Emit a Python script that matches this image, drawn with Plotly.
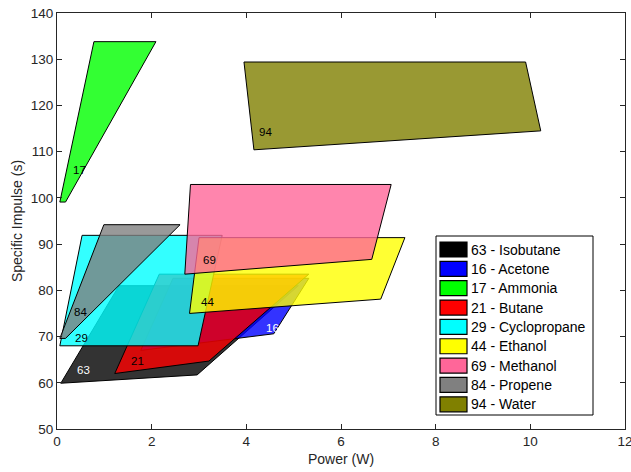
import plotly.graph_objects as go

# Operating envelopes of each propellant: corner points (power in W, specific impulse in s)
names = ["63 - Isobutane", "16 - Acetone", "17 - Ammonia", "21 - Butane",
         "29 - Cyclopropane", "44 - Ethanol", "69 - Methanol", "84 - Propene", "94 - Water"]
ids = ["63", "16", "17", "21", "29", "44", "69", "84", "94"]

power_isobutane = [0.08, 2.96, 5.10, 1.31]
isp_isobutane = [59.9, 61.7, 81.0, 81.0]

power_acetone = [1.77, 4.58, 5.32, 2.45]
isp_acetone = [67.0, 70.6, 82.6, 82.6]

power_ammonia = [0.06, 0.18, 2.09, 0.78]
isp_ammonia = [99.1, 99.1, 133.8, 133.8]

power_butane = [1.22, 3.21, 5.32, 2.16]
isp_butane = [62.0, 64.7, 83.5, 83.5]

power_cyclopropane = [0.06, 2.98, 3.49, 0.53]
isp_cyclopropane = [68.0, 68.0, 91.9, 91.9]

power_ethanol = [2.80, 6.84, 7.35, 3.00]
isp_ethanol = [75.0, 78.1, 91.4, 91.4]

power_methanol = [2.70, 6.65, 7.06, 2.82]
isp_methanol = [83.5, 86.7, 102.9, 102.9]

power_propene = [0.06, 0.18, 2.60, 0.99]
isp_propene = [69.6, 69.6, 94.2, 94.2]

power_water = [4.16, 10.22, 9.90, 3.95]
isp_water = [110.4, 114.5, 129.4, 129.4]

# Where each ID tag sits inside its envelope
label_power = [0.39, 4.37, 0.30, 1.52, 0.34, 3.00, 3.05, 0.32, 4.23]
label_isp = [62.7, 71.8, 106.0, 64.7, 69.6, 77.5, 86.5, 75.4, 114.25]
label_colors = ["white", "white", "black", "black", "black", "black", "black", "black", "black"]

powers = [power_isobutane, power_acetone, power_ammonia, power_butane, power_cyclopropane,
          power_ethanol, power_methanol, power_propene, power_water]
isps = [isp_isobutane, isp_acetone, isp_ammonia, isp_butane, isp_cyclopropane,
        isp_ethanol, isp_methanol, isp_propene, isp_water]

colors = [(0, 0, 0), (0, 0, 255), (0, 255, 0), (255, 0, 0), (0, 255, 255),
          (255, 255, 0), (255, 102, 153), (128, 128, 128), (128, 128, 0)]
alpha = 0.8

FONT = "Liberation Sans, Arial, sans-serif"
AXIS_COLOR = "#262626"

fig = go.Figure()

for name, px, py, c in zip(names, powers, isps, colors):
    fig.add_trace(go.Scatter(
        x=px + [px[0]], y=py + [py[0]],
        mode="lines", fill="toself",
        fillcolor=f"rgba({c[0]},{c[1]},{c[2]},{alpha})",
        line=dict(color="black", width=1),
        name=name, showlegend=False, hoverinfo="name",
    ))

for tag, lx, ly, tc in zip(ids, label_power, label_isp, label_colors):
    fig.add_annotation(x=lx, y=ly, text=tag, showarrow=False, xanchor="left",
                       yanchor="middle", font=dict(family=FONT, size=11.5, color=tc))

# Legend box drawn in paper coordinates
plot_l, plot_r, plot_t, plot_b = 57, 625, 13, 429
W, H = 631, 472


def px2paper_x(p):
    return (p - plot_l) / (plot_r - plot_l)


def px2paper_y(p):
    return (plot_b - p) / (plot_b - plot_t)


box_l, box_r, box_t, box_b = 436, 593, 236, 415
fig.add_shape(type="rect", xref="paper", yref="paper",
              x0=px2paper_x(box_l), x1=px2paper_x(box_r),
              y0=px2paper_y(box_b), y1=px2paper_y(box_t),
              line=dict(color="black", width=1), fillcolor="white", layer="above")

row0, row_step = 249.5, 19.35
for i, (name, c) in enumerate(zip(names, colors)):
    cy = row0 + i * row_step
    fig.add_shape(type="rect", xref="paper", yref="paper",
                  x0=px2paper_x(440), x1=px2paper_x(467),
                  y0=px2paper_y(cy + 7.5), y1=px2paper_y(cy - 7.5),
                  line=dict(color="black", width=1.2),
                  fillcolor=f"rgb({c[0]},{c[1]},{c[2]})", layer="above")
    fig.add_annotation(xref="paper", yref="paper", x=px2paper_x(469), y=px2paper_y(cy),
                       text=name, showarrow=False, xanchor="left", yanchor="middle",
                       font=dict(family=FONT, size=14, color="black"))

axis_common = dict(
    showline=True, linecolor=AXIS_COLOR, linewidth=1, mirror="ticks",
    ticks="inside", ticklen=5, tickcolor=AXIS_COLOR, tickwidth=1,
    showgrid=False, zeroline=False, ticklabeloverflow="allow", automargin=False,
    tickfont=dict(family=FONT, size=13.5, color=AXIS_COLOR),
)

fig.update_xaxes(range=[0, 12], dtick=2, tick0=0,
                 title=dict(text="Power (W)", font=dict(family=FONT, size=14, color=AXIS_COLOR),
                            standoff=5),
                 **axis_common)
fig.update_yaxes(range=[50, 140], dtick=10, tick0=50,
                 title=dict(text="Specific Impulse (s)",
                            font=dict(family=FONT, size=14, color=AXIS_COLOR), standoff=4),
                 **axis_common)

fig.update_layout(
    width=W, height=H,
    margin=dict(l=plot_l, r=W - plot_r, t=plot_t, b=H - plot_b),
    plot_bgcolor="white", paper_bgcolor="white",
    showlegend=False,
)

fig.write_html("out.html")
